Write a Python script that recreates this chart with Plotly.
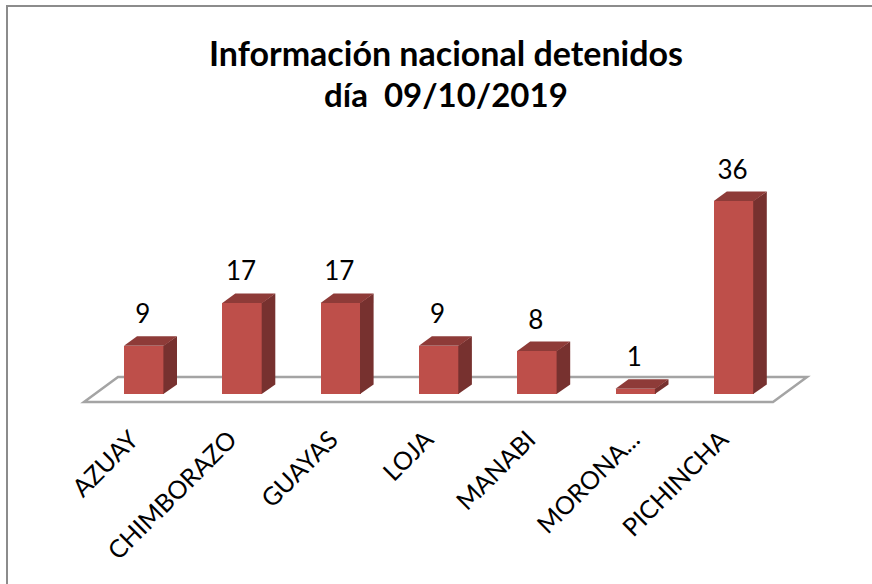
import plotly.graph_objects as go

categories = ["AZUAY", "CHIMBORAZO", "GUAYAS", "LOJA", "MANABI", "MORONA...", "PICHINCHA"]
detenidos = [9, 17, 17, 9, 8, 1, 36]
title_lines = ["Información nacional detenidos", "día  09/10/2019"]

W, H = 872, 584
L, R, T, B = 70, 820, 140, 414
PX_X, PX_Y = 98.3, 5.36
X0_PX, Y0_PX = 144, 394
xrange = [(L - X0_PX) / PX_X, (R - X0_PX) / PX_X]
yrange = [(Y0_PX - B) / PX_Y, (Y0_PX - T) / PX_Y]

BW = 40 / PX_X
DX, DY = 13 / PX_X, 9.5 / PX_Y
SEAM = 0.6 / PX_X
FRONT, SIDE, TOP = "#BE4F4A", "#77312F", "#8E3B38"
idx = list(range(len(categories)))
tick_nudge = [0.13, 0.13, 0.10, 0.13, 0.09, 0.03, 0.13]

fig = go.Figure()
fig.add_trace(go.Bar(x=idx, y=detenidos, width=BW, marker=dict(color=FRONT, line_width=0),
                     hoverinfo="skip", showlegend=False))
for i, v in zip(idx, detenidos):
    xl, xr = i - BW / 2, i + BW / 2
    xs = xr - SEAM
    fig.add_trace(go.Scatter(x=[xs, xr + DX, xr + DX, xs, xs], y=[0, DY, v + DY, v, 0],
                             mode="lines", fill="toself", fillcolor=SIDE, line=dict(width=0),
                             hoverinfo="skip", showlegend=False))
    fig.add_trace(go.Scatter(x=[xl, xr, xr + DX, xl + DX, xl], y=[v, v, v + DY, v + DY, v],
                             mode="lines", fill="toself", fillcolor=TOP, line=dict(width=0),
                             hoverinfo="skip", showlegend=False))
fig.add_trace(go.Scatter(x=[i - 0.013 for i in idx], y=[v + DY + 1.2 for v in detenidos], mode="text",
                         text=[str(v) for v in detenidos], textposition="top center",
                         textfont=dict(family="Lato", size=26, color="#000000"),
                         cliponaxis=False, hoverinfo="skip", showlegend=False))

# floor of the 3-D box
fx = lambda p: (p - X0_PX) / PX_X
fy = lambda p: (Y0_PX - p) / PX_Y
floor = [(84, 402), (773, 402), (807, 377), (118, 377)]
path = "M " + " L ".join(f"{fx(a)},{fy(b)}" for a, b in floor) + " Z"
fig.add_shape(type="path", path=path, xref="x", yref="y", layer="below",
              line=dict(color="#A4A4A4", width=2.5), fillcolor="#FFFFFF")

# outer chart frame
px = lambda p: (p - L) / (R - L)
py = lambda p: (B - p) / (B - T)
fig.add_shape(type="path", xref="paper", yref="paper",
              path=f"M {px(7)},{py(590)} L {px(7)},{py(6)} L {px(880)},{py(6)}",
              line=dict(color="#8C8C8C", width=2))

fig.add_annotation(text="<b>" + title_lines[1] + "</b>", xref="paper", yref="paper",
                   x=px(446), y=py(94), xanchor="center", yanchor="middle",
                   showarrow=False, font=dict(family="Lato", size=33, color="#000000"))

fig.update_layout(
    width=W, height=H, autosize=False,
    margin=dict(l=L, r=W - R, t=T, b=H - B),
    paper_bgcolor="#FFFFFF", plot_bgcolor="rgba(0,0,0,0)",
    title=dict(text="<b>" + title_lines[0] + "</b>",
               font=dict(family="Lato", size=34, color="#000000"),
               x=446 / W, xanchor="center", xref="container",
               y=1 - 54 / H, yanchor="middle"),
    xaxis=dict(range=xrange, tickmode="array", tickvals=[i - n for i, n in zip(idx, tick_nudge)],
               ticktext=categories,
               tickangle=-45, showgrid=False, zeroline=False, showline=False, ticks="",
               ticklabelstandoff=5,
               tickfont=dict(family="Lato", size=25, color="#000000")),
    yaxis=dict(range=yrange, visible=False, showgrid=False, zeroline=False),
    bargap=0,
)
fig.write_html("out.html", post_script="document.body.style.margin='0';",
               config={"displayModeBar": False})
